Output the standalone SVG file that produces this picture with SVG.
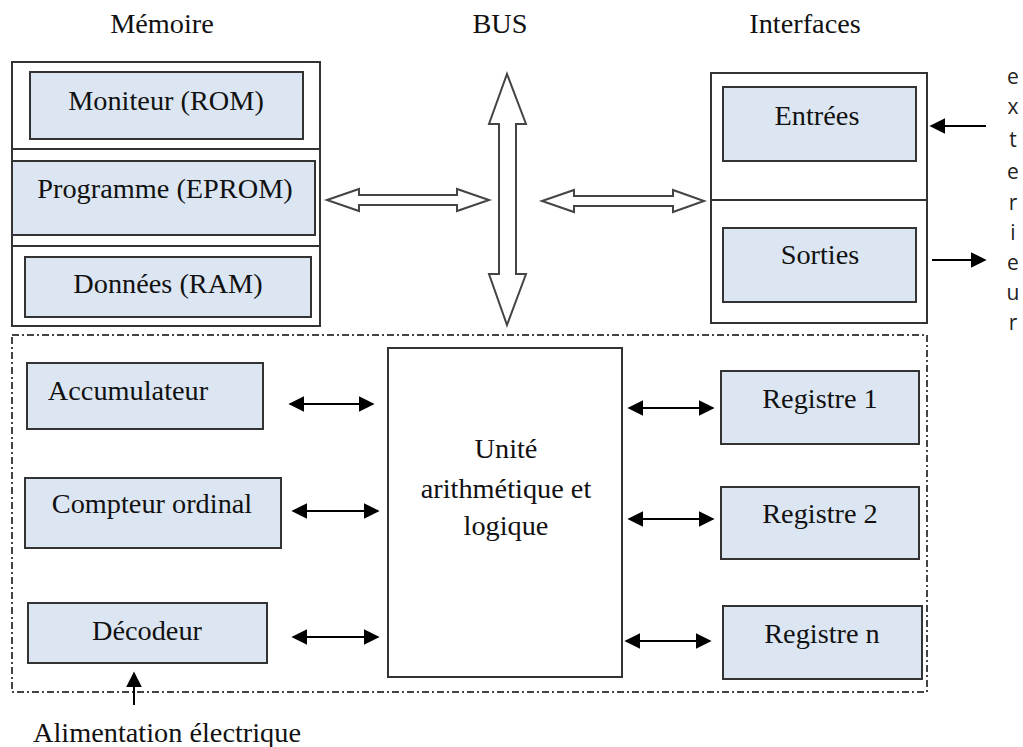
<svg xmlns="http://www.w3.org/2000/svg" width="1023" height="747" viewBox="0 0 1023 747">
<defs>
<style>
.t{font-family:"Liberation Serif","Times New Roman",serif;font-size:28.3px;fill:#111;text-anchor:middle}
.s{font-family:"Open Sans","Liberation Sans",sans-serif;font-size:21px;fill:#222;text-anchor:middle}
.box{fill:#dce6f2;stroke:#333;stroke-width:2}
.frame{fill:#fff;stroke:#333;stroke-width:2}
.line{fill:none;stroke:#333;stroke-width:2}
.big{fill:#fff;stroke:#444;stroke-width:2;stroke-linejoin:miter}
.conn{stroke:#000;stroke-width:2;fill:none}
</style>
<marker id="ah" viewBox="0 0 10 10" refX="9" refY="5" markerWidth="8" markerHeight="8" markerUnits="strokeWidth" orient="auto-start-reverse">
<path d="M0,0 L10,5 L0,10 z" fill="#000"/>
</marker>
</defs>
<rect width="1023" height="747" fill="#fff"/>

<g id="titles">
<text class="t" x="162" y="33">Mémoire</text>
<text class="t" x="500" y="33">BUS</text>
<text class="t" x="805" y="33">Interfaces</text>
</g>

<g id="memoire">
<rect class="frame" x="12" y="62" width="308" height="264"/>
<line class="line" x1="12" y1="149" x2="320" y2="149"/>
<line class="line" x1="12" y1="246" x2="320" y2="246"/>
</g>
<g id="moniteur">
<rect class="box" x="30" y="72" width="273" height="67"/>
<text class="t" x="166" y="110">Moniteur (ROM)</text>
</g>
<g id="programme">
<rect class="box" x="12" y="161" width="303" height="74"/>
<text class="t" x="165" y="198">Programme (EPROM)</text>
</g>
<g id="donnees">
<rect class="box" x="25" y="257" width="286" height="60"/>
<text class="t" x="168" y="293">Données (RAM)</text>
</g>

<g id="interfaces">
<rect class="frame" x="711" y="73" width="216" height="250"/>
<line class="line" x1="711" y1="200" x2="927" y2="200"/>
</g>
<g id="entrees">
<rect class="box" x="723" y="87" width="193" height="74"/>
<text class="t" x="817" y="125">Entrées</text>
</g>
<g id="sorties">
<rect class="box" x="723" y="228" width="193" height="74"/>
<text class="t" x="820" y="264">Sorties</text>
</g>

<g id="exterieur">
<text class="s" x="1013" y="84">e</text>
<text class="s" x="1013" y="114">x</text>
<text class="s" x="1013" y="147">t</text>
<text class="s" x="1013" y="179">e</text>
<text class="s" x="1013" y="210">r</text>
<text class="s" x="1013" y="240">i</text>
<text class="s" x="1013" y="270">e</text>
<text class="s" x="1013" y="300">u</text>
<text class="s" x="1013" y="330">r</text>
</g>

<g id="cpu">
<rect x="12" y="335" width="915" height="357" fill="none" stroke="#444" stroke-width="2" stroke-dasharray="7 3 2 3"/>
</g>

<g id="alu">
<rect class="frame" x="388" y="348" width="234" height="329"/>
<text class="t" x="506" y="458">Unité</text>
<text class="t" x="506" y="498">arithmétique et</text>
<text class="t" x="506" y="535">logique</text>
</g>

<g id="accumulateur">
<rect class="box" x="27" y="363" width="236" height="66"/>
<text class="t" x="128" y="400">Accumulateur</text>
</g>
<g id="compteur">
<rect class="box" x="25" y="478" width="256" height="70"/>
<text class="t" x="152" y="513">Compteur ordinal</text>
</g>
<g id="decodeur">
<rect class="box" x="28" y="603" width="239" height="60"/>
<text class="t" x="147" y="640">Décodeur</text>
</g>

<g id="registre1">
<rect class="box" x="721" y="371" width="198" height="73"/>
<text class="t" x="820" y="408">Registre 1</text>
</g>
<g id="registre2">
<rect class="box" x="721" y="487" width="198" height="72"/>
<text class="t" x="820" y="523">Registre 2</text>
</g>
<g id="registren">
<rect class="box" x="723" y="606" width="199" height="73"/>
<text class="t" x="822" y="643">Registre n</text>
</g>

<g id="alimentation">
<text class="t" x="167" y="742">Alimentation électrique</text>
</g>

<g id="connectors">
<path class="big" d="M507,74 L526,124 L516,124 L516,274 L526,274 L507,325 L489,274 L499,274 L499,124 L489,124 Z"/>
<path class="big" d="M327,200 L359,189 L359,195 L457,195 L457,189 L489,200 L457,211 L457,205 L359,205 L359,211 Z"/>
<path class="big" d="M542,201 L574,190 L574,196 L673,196 L673,190 L704,201 L673,212 L673,206 L574,206 L574,212 Z"/>
<line class="conn" x1="986" y1="126" x2="931" y2="126" marker-end="url(#ah)"/>
<line class="conn" x1="932" y1="260" x2="985" y2="260" marker-end="url(#ah)"/>
<line class="conn" x1="290" y1="404" x2="373" y2="404" marker-start="url(#ah)" marker-end="url(#ah)"/>
<line class="conn" x1="293" y1="511" x2="378" y2="511" marker-start="url(#ah)" marker-end="url(#ah)"/>
<line class="conn" x1="293" y1="637" x2="378" y2="637" marker-start="url(#ah)" marker-end="url(#ah)"/>
<line class="conn" x1="629" y1="408" x2="713" y2="408" marker-start="url(#ah)" marker-end="url(#ah)"/>
<line class="conn" x1="629" y1="519" x2="713" y2="519" marker-start="url(#ah)" marker-end="url(#ah)"/>
<line class="conn" x1="626" y1="641" x2="710" y2="641" marker-start="url(#ah)" marker-end="url(#ah)"/>
<line class="conn" x1="134" y1="705" x2="134" y2="673" marker-end="url(#ah)"/>
</g>
</svg>
